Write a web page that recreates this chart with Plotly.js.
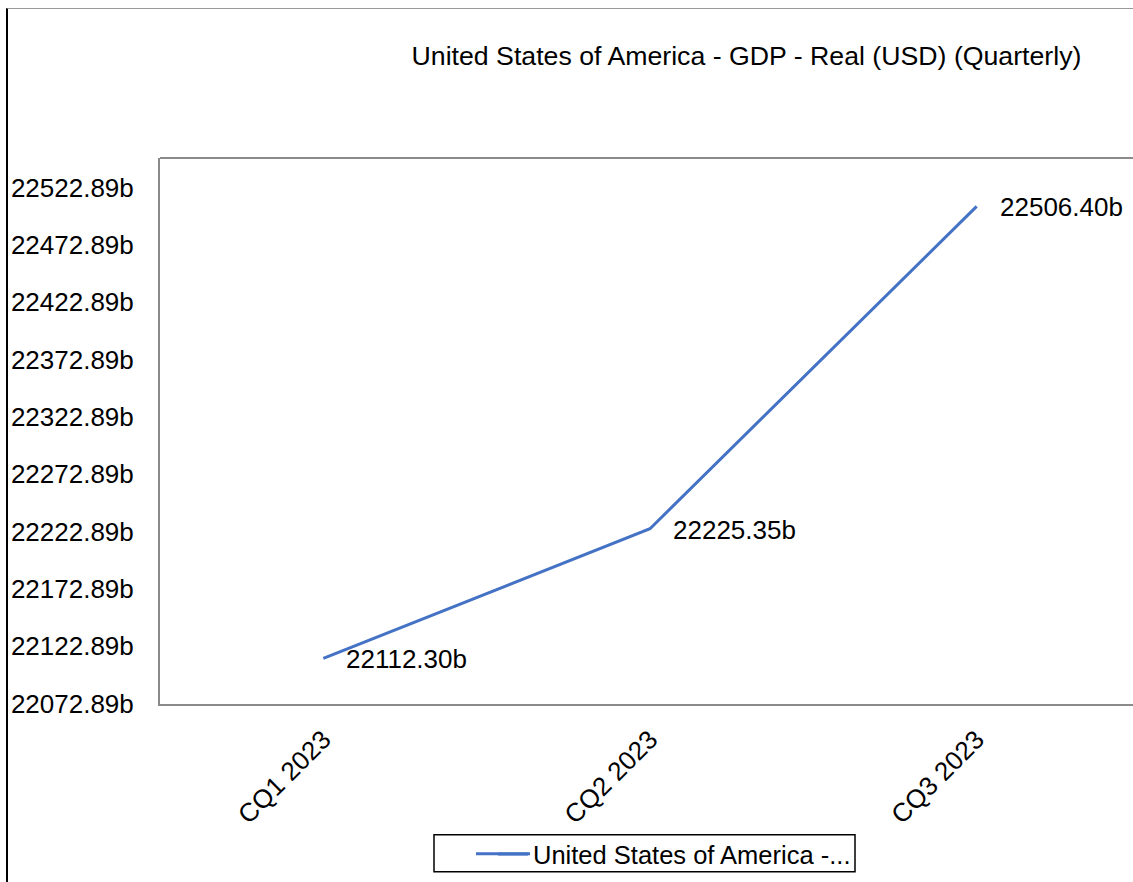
<!DOCTYPE html>
<html>
<head>
<meta charset="utf-8">
<script src="https://cdn.plot.ly/plotly-3.0.1.min.js"></script>
<style>
html, body { margin: 0; padding: 0; overflow: hidden; background: #fff; width: 1133px; height: 882px; }
#chart { position: absolute; left: 0; top: 0; width: 1145px; height: 882px; }
#frame { position: absolute; left: 6px; top: 8px; width: 1200px; height: 900px; border-left: 2px solid #000; border-top: 1px solid #9a9a9a; pointer-events: none; }
</style>
</head>
<body>
<div id="chart"></div>
<div id="frame"></div>
<script>
const categories = ["CQ1 2023", "CQ2 2023", "CQ3 2023"];
const gdpValues = [22112.30, 22225.35, 22506.40];
const dataLabels = ["22112.30b", "22225.35b", "22506.40b"];
const yTickVals = [22072.89, 22122.89, 22172.89, 22222.89, 22272.89, 22322.89, 22372.89, 22422.89, 22472.89, 22522.89];
const yTickText = ["22072.89b", "22122.89b", "22172.89b", "22222.89b", "22272.89b", "22322.89b", "22372.89b", "22422.89b", "22472.89b", "22522.89b"];
const seriesName = "United States of America -...";
const chartTitle = "United States of America - GDP - Real (USD) (Quarterly)";

const FONT = "Liberation Sans, Arial, sans-serif";
const AXIS_COLOR = "#8a8a8a";
const LINE_COLOR = "#4472C4";

const trace = {
  x: categories,
  y: gdpValues,
  type: "scatter",
  mode: "lines",
  name: seriesName,
  line: { color: LINE_COLOR, width: 3 },
  hoverinfo: "skip"
};

const annotations = categories.map((c, i) => ({
  x: c, y: gdpValues[i], xref: "x", yref: "y",
  text: dataLabels[i], showarrow: false,
  xanchor: "left", yanchor: "middle", xshift: 21, yshift: -1,
  font: { family: FONT, size: 26, color: "#000" }
}));

const px = v => (v - 160) / 980;
const py = v => (705 - v) / 547;

const layout = {
  width: 1145, height: 882,
  margin: { l: 160, r: 5, t: 158, b: 177 },
  paper_bgcolor: "#fff", plot_bgcolor: "#fff",
  font: { family: FONT, color: "#000" },
  title: {
    text: chartTitle,
    font: { family: FONT, size: 26.7, color: "#000" },
    xref: "container", yref: "container",
    x: 746.5 / 1145, y: 1 - 56 / 882, xanchor: "center", yanchor: "middle"
  },
  xaxis: {
    type: "category",
    range: [-0.5, 2.5],
    showgrid: false, zeroline: false,
    showline: true, linecolor: AXIS_COLOR, linewidth: 2,
    ticks: "", tickangle: -45,
    ticklabelstandoff: 8,
    tickfont: { family: FONT, size: 26, color: "#000" },
    fixedrange: true
  },
  yaxis: {
    range: [22072.5, 22548.6],
    showgrid: false, zeroline: false,
    showline: true, linecolor: AXIS_COLOR, linewidth: 2,
    ticks: "",
    tickvals: yTickVals, ticktext: yTickText,
    ticklabelstandoff: 19,
    tickfont: { family: FONT, size: 26, color: "#000" },
    fixedrange: true
  },
  shapes: [
    { type: "line", xref: "paper", yref: "paper", x0: 0, x1: 1, y0: 1, y1: 1,
      line: { color: AXIS_COLOR, width: 2 } },
    { type: "rect", xref: "paper", yref: "paper",
      x0: px(434), x1: px(855), y0: py(873), y1: py(836),
      line: { color: "#000", width: 1.5 }, fillcolor: "rgba(0,0,0,0)" },
    { type: "line", xref: "paper", yref: "paper", layer: "above",
      x0: px(476), x1: px(530), y0: py(855), y1: py(855),
      line: { color: LINE_COLOR, width: 3.2 } }
  ],
  annotations: annotations,
  showlegend: true,
  legend: {
    orientation: "h",
    x: px(493), xanchor: "left",
    y: py(854.5), yanchor: "middle",
    bgcolor: "rgba(0,0,0,0)", borderwidth: 0,
    font: { family: FONT, size: 25.5, color: "#000" },
    itemclick: false, itemdoubleclick: false
  }
};

Plotly.newPlot("chart", [trace], layout, { displayModeBar: false, staticPlot: true });
</script>
</body>
</html>
